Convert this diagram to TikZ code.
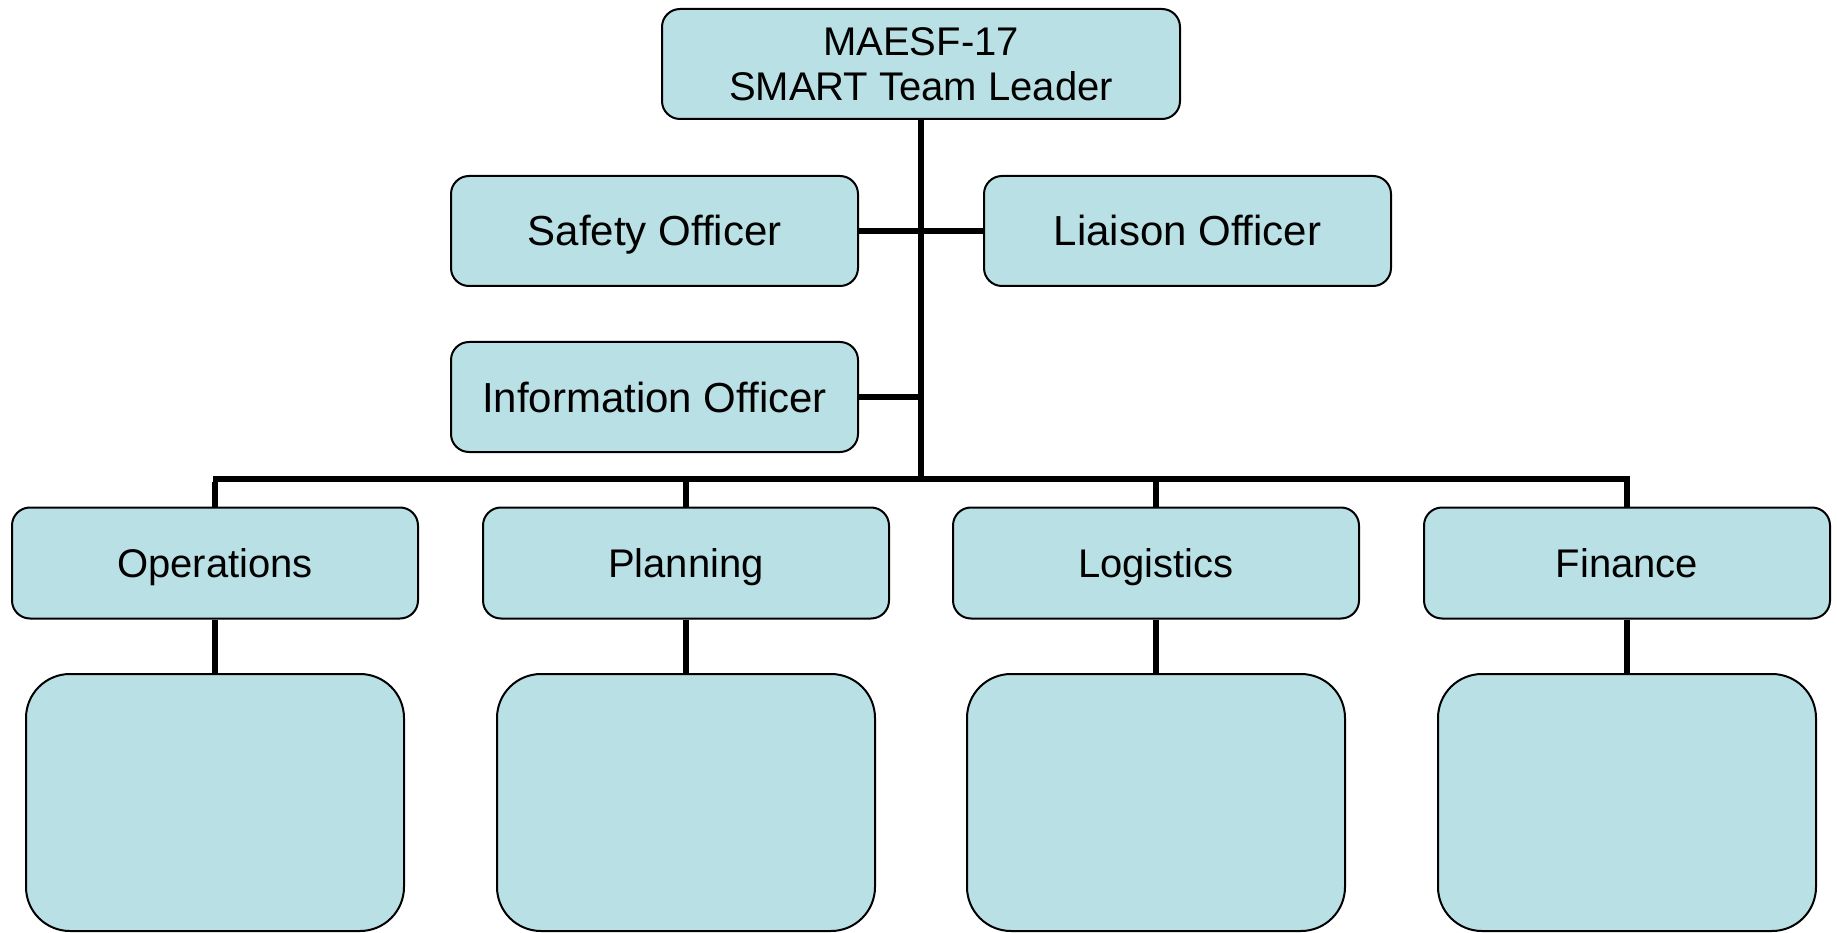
\documentclass[tikz,border=0pt]{standalone}
\usepackage{fontspec}
\setmainfont{Liberation Sans}
\definecolor{boxfill}{HTML}{B9E0E4}
\begin{document}
\begin{tikzpicture}[x=1pt,y=-1pt,
  box/.style={draw=black, line width=2pt, fill=boxfill, rounded corners=18pt, inner sep=0pt, align=center},
  bigbox/.style={draw=black, line width=2pt, fill=boxfill, rounded corners=44pt, inner sep=0pt},
  conn/.style={draw=black, line width=6pt},
  txt/.style={font=\fontsize{40}{45}\selectfont, text height=28.6pt, text depth=0pt},
  otxt/.style={font=\fontsize{42}{46}\selectfont, text height=30pt, text depth=0pt},
  toptxt/.style={font=\fontsize{40}{45}\selectfont}]
\useasboundingbox (0,0) rectangle (1837,933);
\coordinate (bar) at (921.5,478.5);
\coordinate (barL) at (216,478.5);
\coordinate (barR) at (1627,478.5);
% boxes
\node[box, toptxt, minimum width=518pt, minimum height=110pt] (top) at (921,64) {MAESF-17\\SMART Team Leader};
\node[box, otxt, minimum width=407pt, minimum height=110pt] (safety) at (654.5,231) {Safety Officer};
\node[box, otxt, minimum width=407pt, minimum height=110pt] (liaison) at (1187.5,231) {Liaison Officer};
\node[box, otxt, minimum width=407pt, minimum height=110pt] (info) at (654.5,397) {Information Officer};
\node[box, txt, minimum width=406pt, minimum height=111pt] (ops) at (215,563) {Operations};
\node[box, txt, minimum width=406pt, minimum height=111pt] (plan) at (686,563) {Planning};
\node[box, txt, minimum width=406pt, minimum height=111pt] (log) at (1156,563) {Logistics};
\node[box, txt, minimum width=406pt, minimum height=111pt] (fin) at (1627,563) {Finance};
\node[bigbox, minimum width=378pt, minimum height=257pt] (opsb) at (215,802.5) {};
\node[bigbox, minimum width=378pt, minimum height=257pt] (planb) at (686,802.5) {};
\node[bigbox, minimum width=378pt, minimum height=257pt] (logb) at (1156,802.5) {};
\node[bigbox, minimum width=378pt, minimum height=257pt] (finb) at (1627,802.5) {};
% connectors
\draw[conn] (top.south) -- (top.south |- bar);
\draw[conn] (safety.east) -- (liaison.west);
\draw[conn] (info.east) -- (info.east -| top.south);
\draw[conn] ([xshift=-3pt]barL) -- ([xshift=3pt]barR);
\draw[conn] ([yshift=-3pt]ops.north |- bar) -- (ops.north);
\draw[conn] ([yshift=-3pt]plan.north |- bar) -- (plan.north);
\draw[conn] ([yshift=-3pt]log.north |- bar) -- (log.north);
\draw[conn] ([yshift=-3pt]fin.north |- bar) -- (fin.north);
\draw[conn] (ops.south) -- (opsb.north);
\draw[conn] (plan.south) -- (planb.north);
\draw[conn] (log.south) -- (logb.north);
\draw[conn] (fin.south) -- (finb.north);
\end{tikzpicture}
\end{document}
